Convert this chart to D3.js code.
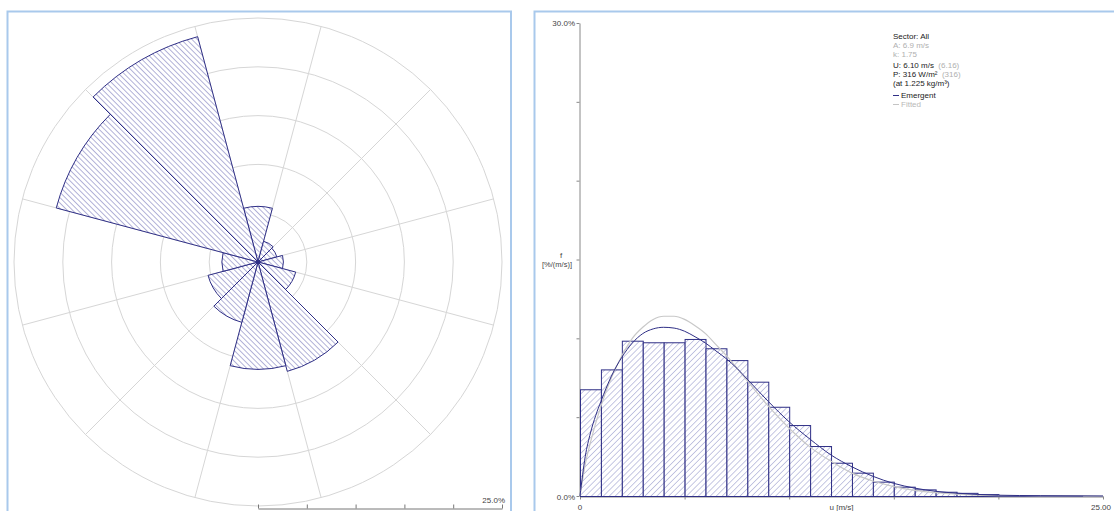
<!DOCTYPE html>
<html>
<head>
<meta charset="utf-8">
<script src="https://cdn.jsdelivr.net/npm/d3@7"></script>
<style>
  body { margin: 0; background: #fff; }
  svg { display: block; }
  text { font-family: "Liberation Sans", Arial, sans-serif; }
</style>
</head>
<body>
<svg id="chart" width="1114" height="511"></svg>
<script>
// ---- Wind rose: frequency per 30° sector (%) ----
const sectorNames   = ["N", "NNE", "ENE", "E", "ESE", "SSE", "S", "SSW", "WSW", "W", "WNW", "NNW"];
const sectorCentres = [0, 30, 60, 90, 120, 150, 180, 210, 240, 270, 300, 330];
const sectorFreq    = [5.7, 2.2, 2.0, 2.6, 4.0, 11.6, 11.0, 6.4, 5.3, 3.7, 21.4, 23.9];
const roseRings     = [5, 10, 15, 20, 25];
const roseMax       = 25;

// ---- Wind speed histogram: 1 m/s bins, frequency in %/(m/s) ----
const binStart = [0, 1, 2, 3, 4, 5, 6, 7, 8, 9, 10, 11, 12, 13, 14, 15, 16, 17, 18, 19, 20, 21, 22, 23, 24];
const binFreq  = [6.77, 8.03, 9.85, 9.75, 9.75, 9.96, 9.37, 8.62, 7.25, 5.66, 4.5, 3.17, 2.11, 1.48, 0.91,
                  0.59, 0.42, 0.27, 0.2, 0.12, 0.06, 0.03, 0.02, 0.02, 0.0];

// Emergent distribution curve
const emergentU = [0, 0.25, 0.5, 0.75, 1, 1.5, 2, 2.5, 3, 3.5, 4, 4.5, 5, 5.5, 6, 6.5, 7, 7.5, 8, 9, 10,
                   11, 12, 13, 14, 15, 16, 17, 18, 19, 20, 22, 25];
const emergentF = [0, 2.5, 4.0, 5.1, 6.0, 7.6, 8.8, 9.7, 10.3, 10.6, 10.7, 10.65, 10.45, 10.1, 9.7, 9.2, 8.7, 8.1, 7.4, 6.0, 4.7,
                   3.6, 2.6, 1.85, 1.25, 0.8, 0.5, 0.3, 0.18, 0.1, 0.05, 0.02, 0];

// Fitted Weibull curve
const fittedU = [0, 0.25, 0.5, 1, 1.5, 2, 2.5, 3, 3.5, 4, 4.5, 5, 5.5, 6, 6.5, 7, 8, 9, 10,
                 11, 12, 13, 14, 15, 16, 17, 18, 19, 20, 22, 25];
const fittedF = [0, 2.0, 3.4, 5.7, 7.5, 8.9, 10.0, 10.7, 11.2, 11.4, 11.4, 11.2, 10.8, 10.3, 9.6, 8.9, 7.3, 5.7, 4.3,
                 3.1, 2.2, 1.45, 0.95, 0.6, 0.36, 0.21, 0.12, 0.06, 0.03, 0.01, 0];

const yTicks = [0, 5, 10, 15, 20, 25, 30];
const xTicks = [0, 5, 10, 15, 20, 25];

// Statistics box
const statLines = [
  [{ t: "Sector: All", c: "#222" }],
  [{ t: "A: 6.9 m/s", c: "#b0b0b0" }],
  [{ t: "k: 1.75", c: "#b0b0b0" }],
  [{ t: "U: 6.10 m/s", c: "#222" }, { t: "  (6.16)", c: "#b0b0b0" }],
  [{ t: "P: 316 W/m²", c: "#222" }, { t: "  (316)", c: "#b0b0b0" }],
  [{ t: "(at 1.225 kg/m³)", c: "#222" }]
];
const legendItems = [
  { t: "Emergent", c: "#222", line: "#2f2f86" },
  { t: "Fitted", c: "#b8b8b8", line: "#c4c4c4" }
];

const navy = "#2f2f86";
const svg = d3.select("#chart");

// hatch patterns
const defs = svg.append("defs");
function hatch(id, angle, gap, colour, width) {
  const p = defs.append("pattern")
    .attr("id", id)
    .attr("patternUnits", "userSpaceOnUse")
    .attr("width", gap).attr("height", gap)
    .attr("patternTransform", `rotate(${angle})`);
  p.append("rect").attr("width", gap).attr("height", gap).attr("fill", "#fff");
  p.append("line").attr("x1", 0).attr("y1", 0).attr("x2", 0).attr("y2", gap)
    .attr("stroke", colour).attr("stroke-width", width);
}
hatch("roseHatch", -45, 3.8, "#7474b8", 1.1);
hatch("histHatch", 45, 4.2, "#8f92c8", 1);

// panel frames
svg.append("rect").attr("x", 7.5).attr("y", 11.5).attr("width", 503.5).attr("height", 530)
  .attr("fill", "none").attr("stroke", "#a9c9ec").attr("stroke-width", 2);
svg.append("rect").attr("x", 534.5).attr("y", 11.5).attr("width", 600).attr("height", 530)
  .attr("fill", "none").attr("stroke", "#a9c9ec").attr("stroke-width", 2);

// ================= Wind rose =================
const cx = 258, cy = 262;
const r = d3.scaleLinear().domain([0, roseMax]).range([0, 244]);
const rose = svg.append("g").attr("transform", `translate(${cx},${cy})`);

rose.selectAll("circle.ring").data(roseRings).join("circle")
  .attr("class", "ring").attr("r", d => r(d))
  .attr("fill", "none").attr("stroke", "#d6d6d6").attr("stroke-width", 1);

const spokeAngles = sectorCentres.map(c => c + 15);
rose.selectAll("line.spoke").data(spokeAngles).join("line")
  .attr("class", "spoke")
  .attr("x1", 0).attr("y1", 0)
  .attr("x2", a => r(roseMax) * Math.sin(a * Math.PI / 180))
  .attr("y2", a => -r(roseMax) * Math.cos(a * Math.PI / 180))
  .attr("stroke", "#d6d6d6").attr("stroke-width", 1);

const arc = d3.arc()
  .innerRadius(0)
  .outerRadius(d => r(d.f))
  .startAngle(d => (d.c - 15) * Math.PI / 180)
  .endAngle(d => (d.c + 15) * Math.PI / 180);

rose.selectAll("path.sector")
  .data(sectorCentres.map((c, i) => ({ c, f: sectorFreq[i], name: sectorNames[i] })))
  .join("path")
  .attr("class", "sector")
  .attr("d", arc)
  .attr("fill", "url(#roseHatch)")
  .attr("stroke", navy).attr("stroke-width", 1);

rose.append("circle").attr("r", 1.8).attr("fill", navy);

// radial scale bar
const scaleBar = svg.append("g").attr("transform", `translate(${cx},508.5)`)
  .call(d3.axisTop(r).tickValues(roseRings.concat([0])).tickSize(4).tickSizeOuter(0).tickFormat(""));
scaleBar.select(".domain").attr("stroke", "#777");
scaleBar.selectAll(".tick line").attr("stroke", "#777");
svg.append("text").attr("x", cx + r(roseMax) + 3).attr("y", 503)
  .attr("text-anchor", "end").attr("font-size", 8).attr("fill", "#444")
  .text(d3.format(".1f")(roseMax) + "%");

// ================= Histogram =================
const x = d3.scaleLinear().domain([0, 25]).range([580, 1103]);
const y = d3.scaleLinear().domain([0, 30]).range([496, 23]);

const yAx = svg.append("g").attr("transform", "translate(579.5,0)")
  .call(d3.axisLeft(y).tickValues(yTicks).tickSize(3).tickSizeOuter(0).tickFormat(""));
yAx.select(".domain").attr("stroke", "#888");
yAx.selectAll(".tick line").attr("stroke", "#888");

const xAx = svg.append("g").attr("transform", "translate(0,496.5)")
  .call(d3.axisBottom(x).tickValues(xTicks).tickSize(3).tickSizeOuter(0).tickFormat(""));
xAx.select(".domain").attr("stroke", "#888");
xAx.selectAll(".tick line").attr("stroke", "#888");

svg.append("text").attr("x", 575).attr("y", 26).attr("text-anchor", "end")
  .attr("font-size", 8).attr("fill", "#444").text(d3.format(".1f")(30) + "%");
svg.append("text").attr("x", 575).attr("y", 500).attr("text-anchor", "end")
  .attr("font-size", 8).attr("fill", "#444").text(d3.format(".1f")(0) + "%");
svg.append("text").attr("x", x(0)).attr("y", 510).attr("text-anchor", "middle")
  .attr("font-size", 8).attr("fill", "#444").text("0");
svg.append("text").attr("x", x(25) - 2).attr("y", 510).attr("text-anchor", "middle")
  .attr("font-size", 8).attr("fill", "#444").text(d3.format(".2f")(25));
svg.append("text").attr("x", x(12.5)).attr("y", 510).attr("text-anchor", "middle")
  .attr("font-size", 8).attr("fill", "#444").text("u [m/s]");
svg.append("text").attr("x", 561).attr("y", 258).attr("text-anchor", "middle")
  .attr("font-size", 8).attr("fill", "#444").text("f");
svg.append("text").attr("x", 557).attr("y", 267).attr("text-anchor", "middle")
  .attr("font-size", 7.5).attr("fill", "#444").text("[%/(m/s)]");

// bars
svg.append("g").selectAll("rect").data(binStart.map((b, i) => ({ b, f: binFreq[i] })).filter(d => d.f > 0))
  .join("rect")
  .attr("x", d => x(d.b) + 0.5)
  .attr("y", d => y(d.f) + 0.5)
  .attr("width", d => x(d.b + 1) - x(d.b))
  .attr("height", d => y(0) - y(d.f))
  .attr("fill", "url(#histHatch)")
  .attr("stroke", navy).attr("stroke-width", 1);

// curves
const line = d3.line().x(d => x(d[0])).y(d => y(d[1])).curve(d3.curveMonotoneX);
svg.append("path").datum(fittedU.map((u, i) => [u, fittedF[i]]))
  .attr("d", line).attr("fill", "none").attr("stroke", "#c8c8c8").attr("stroke-width", 1.2);
svg.append("path").datum(emergentU.map((u, i) => [u, emergentF[i]]))
  .attr("d", line).attr("fill", "none").attr("stroke", navy).attr("stroke-width", 1);

// statistics box
const stats = svg.append("g").attr("transform", "translate(893,0)");
const statBase = [39, 48, 57, 68, 77, 86];
statLines.forEach((parts, i) => {
  const t = stats.append("text").attr("x", 0).attr("y", statBase[i]).attr("font-size", 8)
    .attr("xml:space", "preserve");
  parts.forEach(p => t.append("tspan").attr("fill", p.c).text(p.t));
});
const legBase = [98, 107];
legendItems.forEach((it, i) => {
  stats.append("line").attr("x1", 0).attr("x2", 6)
    .attr("y1", legBase[i] - 2.5).attr("y2", legBase[i] - 2.5)
    .attr("stroke", it.line).attr("stroke-width", 1);
  stats.append("text").attr("x", 8).attr("y", legBase[i]).attr("font-size", 8)
    .attr("fill", it.c).text(it.t);
});
</script>
</body>
</html>
